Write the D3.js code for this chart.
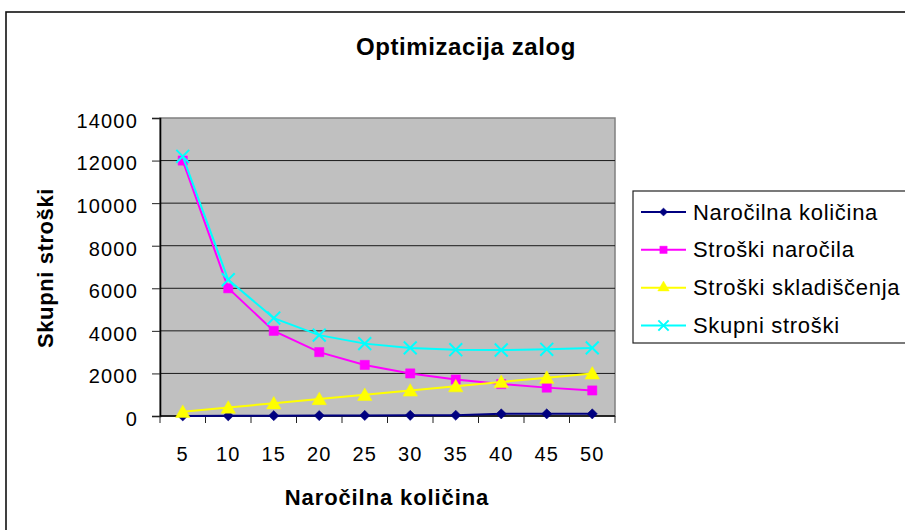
<!DOCTYPE html>
<html>
<head>
<meta charset="utf-8">
<script src="https://cdn.jsdelivr.net/npm/d3@7"></script>
<style>
  body { margin: 0; background: #fff; }
  svg { display: block; font-family: Arial, "Liberation Sans", sans-serif; }
</style>
</head>
<body>
<svg id="chart" width="905" height="530"></svg>
<script>
var categories = ['5', '10', '15', '20', '25', '30', '35', '40', '45', '50'];
var narocilnaKolicina = [5, 10, 15, 20, 25, 30, 35, 100, 100, 100];
var stroskiNarocila = [12000, 6000, 4000, 3000, 2400, 2000, 1714, 1500, 1333, 1200];
var stroskiSkladiscenja = [200, 400, 600, 800, 1000, 1200, 1400, 1600, 1800, 2000];
var skupniStroski = [12200, 6400, 4600, 3800, 3400, 3200, 3114, 3100, 3133, 3200];
var yTicks = [0, 2000, 4000, 6000, 8000, 10000, 12000, 14000];

var series = [
  {name: 'Naročilna količina', values: narocilnaKolicina, color: '#000080', marker: 'diamond'},
  {name: 'Stroški naročila', values: stroskiNarocila, color: '#ff00ff', marker: 'square'},
  {name: 'Stroški skladiščenja', values: stroskiSkladiscenja, color: '#ffff00', marker: 'triangle'},
  {name: 'Skupni stroški', values: skupniStroski, color: '#00ffff', marker: 'cross'}
];

var plot = {left: 160, right: 615, top: 118, bottom: 416};

var svg = d3.select('#chart');

// outer chart frame (right and bottom edges fall outside the picture)
svg.append('rect')
  .attr('x', 6).attr('y', 12)
  .attr('width', 1000).attr('height', 1000)
  .attr('fill', '#fff')
  .attr('stroke', '#111')
  .attr('stroke-width', 1.6);

var x = d3.scaleBand()
  .domain(categories)
  .range([plot.left, plot.right]);

var y = d3.scaleLinear()
  .domain([0, 14000])
  .range([plot.bottom, plot.top]);

svg.append('rect')
  .attr('x', plot.left).attr('y', plot.top)
  .attr('width', plot.right - plot.left)
  .attr('height', plot.bottom - plot.top)
  .attr('fill', '#c0c0c0')
  .attr('stroke', '#808080')
  .attr('stroke-width', 1.5);

// gridlines
svg.append('g')
  .selectAll('line')
  .data(yTicks.slice(1, -1))
  .join('line')
    .attr('x1', plot.left).attr('x2', plot.right)
    .attr('y1', function(d) { return y(d); })
    .attr('y2', function(d) { return y(d); })
    .attr('stroke', '#1a1a1a')
    .attr('stroke-width', 1);

// y axis
var yAxis = svg.append('g')
  .attr('transform', 'translate(' + plot.left + ',0)')
  .call(d3.axisLeft(y).tickValues(yTicks).tickSize(8).tickPadding(14).tickFormat(d3.format('d')));

// x axis with ticks on category boundaries
var xAxis = svg.append('g')
  .attr('transform', 'translate(0,' + plot.bottom + ')')
  .call(d3.axisBottom(x).tickSize(0).tickPadding(31));

xAxis.append('g')
  .selectAll('line')
  .data(d3.range(categories.length + 1))
  .join('line')
    .attr('x1', function(i) { return plot.left + i * x.step(); })
    .attr('x2', function(i) { return plot.left + i * x.step(); })
    .attr('y1', 0).attr('y2', 7)
    .attr('stroke', '#222')
    .attr('stroke-width', 1);

[yAxis, xAxis].forEach(function(ax) {
  ax.select('.domain').attr('stroke', '#000').attr('stroke-width', 1.6);
  ax.selectAll('.tick line').attr('stroke', '#222');
  ax.selectAll('.tick text')
    .attr('font-size', 20)
    .attr('letter-spacing', 1.2)
    .attr('fill', '#000')
    .attr('font-family', 'Arial, "Liberation Sans", sans-serif');
});
yAxis.selectAll('.tick text').attr('y', 3);
xAxis.select('.domain').attr('d', 'M' + plot.left + ',0H' + plot.right);

// series lines
var line = d3.line()
  .x(function(d, i) { return x(categories[i]) + x.bandwidth() / 2; })
  .y(function(d) { return y(d); });

var symbolFor = {
  diamond: d3.symbol().type(d3.symbolSquare).size(52),
  square: d3.symbol().type(d3.symbolSquare).size(85),
  triangle: d3.symbol().type(d3.symbolTriangle).size(90),
  cross: d3.symbol().type(d3.symbolX).size(110)
};

function drawMarker(sel, s, scale) {
  var isCross = s.marker === 'cross';
  var t = (s.marker === 'diamond' ? 'rotate(45)' : '') + (scale ? ' scale(' + scale + ')' : '');
  sel.append('path')
    .attr('d', symbolFor[s.marker]())
    .attr('transform', t || null)
    .attr('fill', isCross ? 'none' : s.color)
    .attr('stroke', s.color)
    .attr('stroke-width', isCross ? 2 / (scale || 1) : 0.5);
}

series.forEach(function(s) {
  var g = svg.append('g');
  g.append('path')
    .datum(s.values)
    .attr('d', line)
    .attr('fill', 'none')
    .attr('stroke', s.color)
    .attr('stroke-width', 2);

  g.selectAll('g.pt')
    .data(s.values)
    .join('g')
      .attr('class', 'pt')
      .attr('transform', function(d, i) {
        var dy = s.marker === 'triangle' ? 1.5 : 0;
        return 'translate(' + (x(categories[i]) + x.bandwidth() / 2) + ',' + (y(d) + dy) + ')';
      })
      .each(function() { drawMarker(d3.select(this), s); });
});

// titles
svg.append('text')
  .attr('x', 466).attr('y', 55)
  .attr('text-anchor', 'middle')
  .attr('font-size', 24)
  .attr('font-weight', 'bold')
  .attr('letter-spacing', 0.6)
  .text('Optimizacija zalog');

svg.append('text')
  .attr('transform', 'translate(53,268) rotate(-90)')
  .attr('text-anchor', 'middle')
  .attr('font-size', 22)
  .attr('font-weight', 'bold')
  .attr('letter-spacing', 0.6)
  .text('Skupni stroški');

svg.append('text')
  .attr('x', 387).attr('y', 505)
  .attr('text-anchor', 'middle')
  .attr('font-size', 22)
  .attr('font-weight', 'bold')
  .attr('letter-spacing', 0.9)
  .text('Naročilna količina');

// legend
var legend = svg.append('g');
legend.append('rect')
  .attr('x', 633).attr('y', 191)
  .attr('width', 400).attr('height', 152)
  .attr('fill', '#fff')
  .attr('stroke', '#222')
  .attr('stroke-width', 1.2);

var legendY = d3.scalePoint()
  .domain(series.map(function(s) { return s.name; }))
  .range([212, 325.5]);

series.forEach(function(s) {
  var item = legend.append('g')
    .attr('transform', 'translate(0,' + legendY(s.name) + ')');
  item.append('line')
    .attr('x1', 641).attr('x2', 686)
    .attr('stroke', s.color)
    .attr('stroke-width', 2);
  var m = item.append('g').attr('transform', 'translate(663.5,0)');
  drawMarker(m, s, 0.8);
  item.append('text')
    .attr('x', 693).attr('y', 7.5)
    .attr('font-size', 22)
    .attr('letter-spacing', 0.7)
    .text(s.name);
});
</script>
</body>
</html>
